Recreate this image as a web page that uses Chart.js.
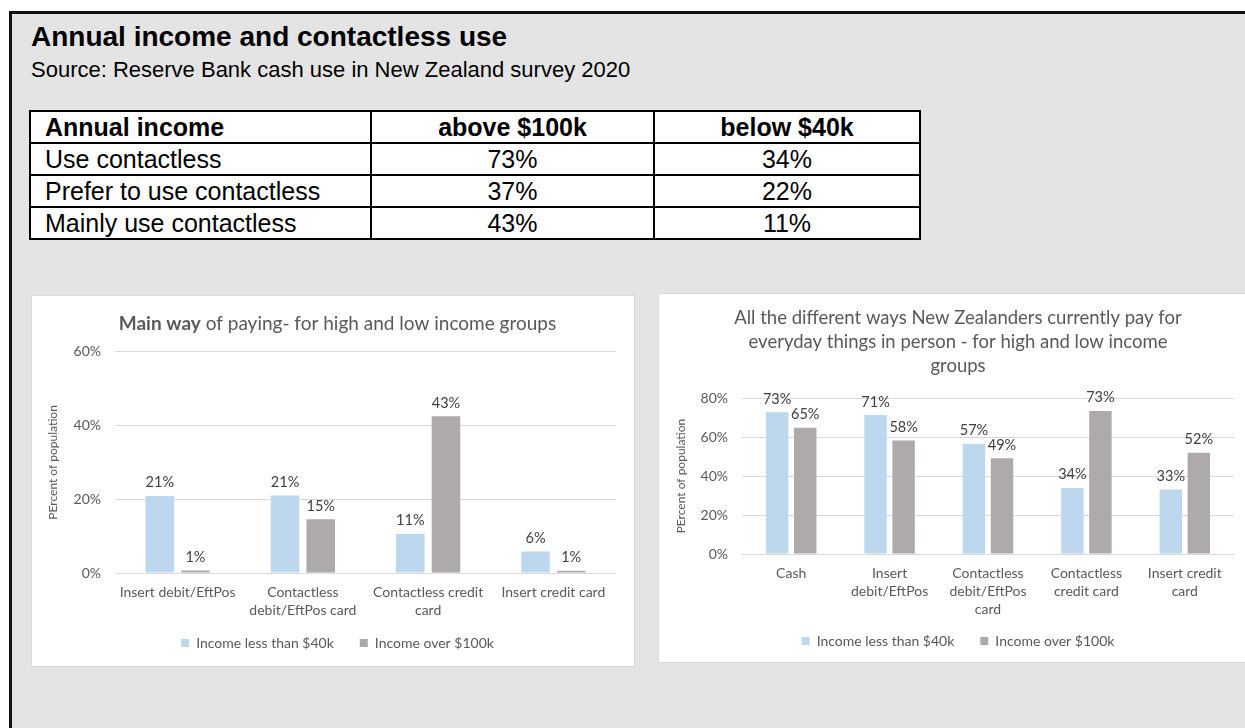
<!doctype html>
<html lang="en">
<head>
<meta charset="UTF-8" />
<title>Annual income and contactless use</title>
<style>
  html, body { margin: 0; padding: 0; }
  body {
    width: 1245px; height: 728px; overflow: hidden; position: relative;
    background: #fff; font-family: "Liberation Sans", Arial, sans-serif;
  }
  .frame {
    position: absolute; left: 9px; top: 11px; width: 1300px; height: 800px;
    border: 3px solid #111; background: #e4e4e4; box-sizing: border-box;
  }
  .title { position: absolute; left: 31px; top: 21px; font-size: 28px; font-weight: bold; color: #000; white-space: nowrap; }
  .subtitle { position: absolute; left: 31px; top: 57px; font-size: 22px; color: #000; white-space: nowrap; }
  table.summary {
    position: absolute; left: 29px; top: 110px; width: 890px;
    border-collapse: collapse; background: #fff; font-size: 25px; color: #000;
    table-layout: fixed;
  }
  .summary td, .summary th { border: 2px solid #000; height: 30px; line-height: 30px; padding: 0; text-align: center; white-space: nowrap; }
  .summary th { font-weight: bold; }
  .summary .first { text-align: left; padding-left: 14px; }
  .panel { position: absolute; background: #fff; border: 1px solid #d9d9d9; }
  .panel canvas { display: block; }
</style>
</head>
<body>
  <div class="frame"></div>
  <div class="title">Annual income and contactless use</div>
  <div class="subtitle">Source: Reserve Bank cash use in New Zealand survey 2020</div>
  <table class="summary" id="summary">
    <colgroup><col style="width:341px"><col style="width:283px"><col style="width:266px"></colgroup>
  </table>

  <div class="panel" style="left:31px; top:295px; width:602px; height:370px;">
    <canvas id="mainWay" width="602" height="370"></canvas>
  </div>
  <div class="panel" style="left:658px; top:293px; width:602px; height:368px;">
    <canvas id="allWays" width="602" height="368"></canvas>
  </div>

  <script src="https://cdn.jsdelivr.net/npm/chart.js"></script>
  <script>
    // table values
    const tableHeader = ['Annual income', 'above $100k', 'below $40k'];
    const tableRows = ['Use contactless', 'Prefer to use contactless', 'Mainly use contactless'];
    const above100k = [73, 37, 43];
    const below40k = [34, 22, 11];

    // chart values (percent of population)
    const seriesNames = ['Income less than $40k', 'Income over $100k'];
    const mainWayCategories = ['Insert debit/EftPos', ['Contactless', 'debit/EftPos card'], ['Contactless credit', 'card'], 'Insert credit card'];
    const mainWayLow = [20.9, 21.0, 10.6, 5.8];
    const mainWayHigh = [0.7, 14.6, 42.5, 0.6];
    const allWaysCategories = ['Cash', ['Insert', 'debit/EftPos'], ['Contactless', 'debit/EftPos', 'card'], ['Contactless', 'credit card'], ['Insert credit', 'card']];
    const allWaysLow = [72.8, 71.3, 56.6, 33.9, 33.1];
    const allWaysHigh = [64.8, 58.3, 49.2, 73.4, 52.0];

    const colorLow = '#bdd7ee';
    const colorHigh = '#aeaaaa';
    const textGray = '#595959';

    // build the table
    var tbl = document.getElementById('summary');
    var html = '<tr>' + tableHeader.map(function (h, i) {
      return '<th' + (i === 0 ? ' class="first"' : '') + '>' + h + '</th>';
    }).join('') + '</tr>';
    tableRows.forEach(function (r, i) {
      html += '<tr><td class="first">' + r + '</td><td>' + above100k[i] + '%</td><td>' + below40k[i] + '%</td></tr>';
    });
    tbl.insertAdjacentHTML('beforeend', html);

    // value labels above the bars
    const barLabels = {
      id: 'barLabels',
      afterDatasetsDraw(chart) {
        const ctx = chart.ctx;
        ctx.save();
        ctx.font = '14.5px Lato';
        ctx.fillStyle = '#404040';
        ctx.textAlign = 'center';
        ctx.textBaseline = 'bottom';
        chart.data.datasets.forEach(function (ds, i) {
          chart.getDatasetMeta(i).data.forEach(function (bar, j) {
            ctx.fillText(Math.round(ds.data[j]) + '%', bar.x, bar.y - 6);
          });
        });
        ctx.restore();
      }
    };

    // title with a bold part, drawn in the space kept by the normal title
    const richTitle = {
      id: 'richTitle',
      afterDraw(chart, args, opts) {
        if (!opts.parts) return;
        const ctx = chart.ctx;
        const box = chart.titleBlock;
        ctx.save();
        ctx.fillStyle = textGray;
        ctx.textBaseline = 'middle';
        ctx.textAlign = 'left';
        let w = 0;
        opts.parts.forEach(function (p) {
          ctx.font = (p.bold ? 'bold ' : '') + opts.size + 'px Lato';
          w += ctx.measureText(p.text).width;
        });
        let x = (box.left + box.right) / 2 - w / 2;
        const y = (box.top + box.bottom) / 2;
        opts.parts.forEach(function (p) {
          ctx.font = (p.bold ? 'bold ' : '') + opts.size + 'px Lato';
          ctx.fillText(p.text, x, y);
          x += ctx.measureText(p.text).width;
        });
        ctx.restore();
      }
    };

    // move the legend up a little (wide gap between items, small gap above)
    const legendNudge = {
      id: 'legendNudge',
      afterLayout(chart, args, opts) {
        if (chart.legend && opts.dy) {
          chart.legend.top += opts.dy;
          chart.legend.bottom += opts.dy;
        }
      }
    };

    Chart.defaults.font.family = 'Lato';
    Chart.defaults.color = textGray;

    function makeChart(id, cats, low, high, max, opt) {
      return new Chart(document.getElementById(id), {
        type: 'bar',
        data: {
          labels: cats,
          datasets: [
            { label: seriesNames[0], data: low, backgroundColor: colorLow },
            { label: seriesNames[1], data: high, backgroundColor: colorHigh }
          ]
        },
        options: {
          responsive: false,
          animation: false,
          categoryPercentage: 0.57,
          barPercentage: 0.8,
          layout: { padding: opt.padding },
          plugins: {
            title: opt.title,
            richTitle: opt.rich || {},
            legendNudge: { dy: opt.legendDy },
            tooltip: { enabled: false },
            legend: {
              position: 'bottom',
              labels: { boxWidth: 8, boxHeight: 8, padding: 26, color: textGray, font: { size: 14 } }
            }
          },
          scales: {
            x: {
              grid: { display: false, drawTicks: false },
              border: { display: false },
              ticks: { padding: 10, maxRotation: 0, autoSkip: false, font: { size: 14, lineHeight: 1.3 } },
              afterFit: function (s) { s.height = opt.xHeight; }
            },
            y: {
              min: 0, max: max,
              grid: { color: '#d9d9d9', drawTicks: false },
              border: { display: false },
              ticks: { stepSize: 20, padding: 14, font: { size: 14 }, callback: function (v) { return v + '%'; } },
              title: { display: true, text: 'PErcent of population', font: { size: 12 }, padding: { top: opt.yTitlePad } },
              afterFit: function (s) { s.width = opt.yWidth; }
            }
          }
        },
        plugins: [barLabels, richTitle, legendNudge]
      });
    }

    makeChart('mainWay', mainWayCategories, mainWayLow, mainWayHigh, 60, {
      padding: { left: 27, right: 18, top: 0, bottom: -5 },
      yWidth: 56, yTitlePad: -13, xHeight: 48, legendDy: -11,
      title: {
        display: true, text: 'Main way of paying- for high and low income groups',
        color: 'rgba(0,0,0,0)', font: { size: 19, weight: 'normal' },
        padding: { top: 16, bottom: 17 }
      },
      rich: { size: 19, parts: [{ text: 'Main way', bold: true }, { text: ' of paying- for high and low income groups' }] }
    });

    makeChart('allWays', allWaysCategories, allWaysLow, allWaysHigh, 80, {
      padding: { left: 23, right: 27, top: 0, bottom: -8 },
      yWidth: 60, yTitlePad: -8, xHeight: 66, legendDy: -12,
      title: {
        display: true,
        text: ['All the different ways New Zealanders currently pay for', 'everyday things in person - for high and low income', 'groups'],
        color: textGray, font: { size: 18.5, weight: 'normal', lineHeight: 1.3 },
        padding: { top: 12, bottom: 20 }
      }
    });
  </script>
</body>
</html>
